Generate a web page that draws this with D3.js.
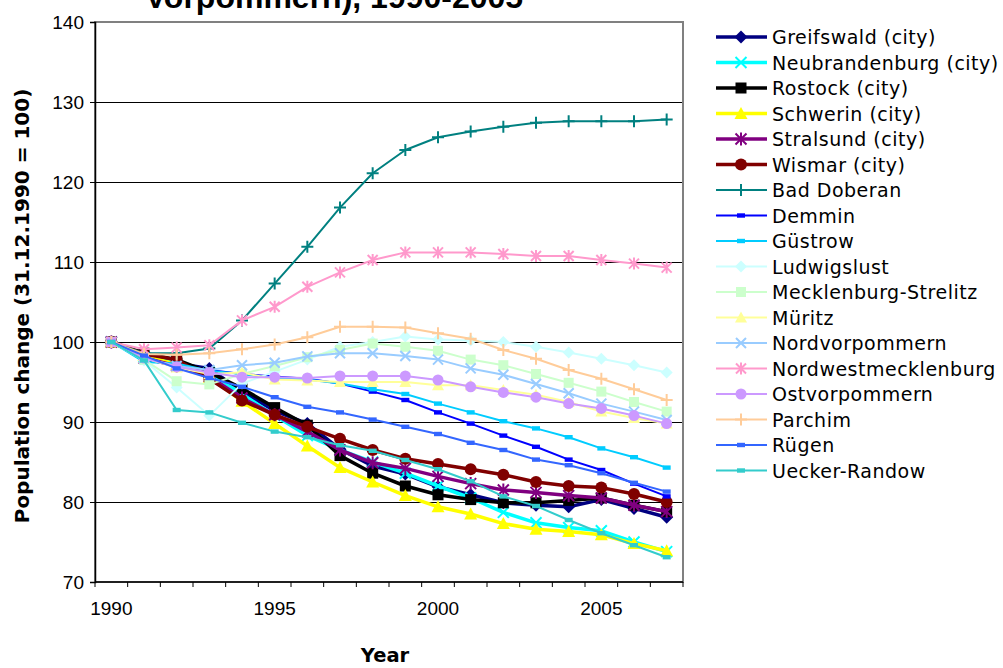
<!DOCTYPE html>
<html><head><meta charset="utf-8">
<script src="https://cdn.jsdelivr.net/npm/d3@7"></script>
<style>
html,body{margin:0;padding:0;background:#fff;}
svg{display:block;}
</style></head>
<body>
<svg id="chart" width="1003" height="668"></svg>
<script>
const years = ["1990","1991","1992","1993","1994","1995","1996","1997","1998","1999","2000","2001","2002","2003","2004","2005","2006","2007"];
const yearLabels = ["1990","1995","2000","2005"];
const yTicks = [70,80,90,100,110,120,130,140];

const seriesNames = ["Greifswald (city)","Neubrandenburg (city)","Rostock (city)","Schwerin (city)","Stralsund (city)","Wismar (city)","Bad Doberan","Demmin","Güstrow","Ludwigslust","Mecklenburg-Strelitz","Müritz","Nordvorpommern","Nordwestmecklenburg","Ostvorpommern","Parchim","Rügen","Uecker-Randow"];

const greifswald = [100,98.3,97.3,96.7,93.8,91.4,89.8,86.6,84.5,83.5,81.9,80.9,79.9,79.6,79.4,80.3,79.2,78.1];
const neubrandenburg = [100,98.2,97.3,96.2,93.5,90.8,88.3,86.5,85.0,83.6,82.0,80.5,78.7,77.4,76.8,76.4,75.0,73.8];
const rostock = [100,98.6,97.8,96.2,94.2,91.8,89.6,85.8,83.6,82.0,80.9,80.3,79.9,79.9,80.2,80.5,79.6,78.8];
const schwerin = [100,98.3,97.2,95.6,92.6,89.8,87.0,84.3,82.5,80.8,79.4,78.5,77.3,76.6,76.3,75.9,74.8,73.9];
const stralsund = [100,98.0,97.0,95.7,93.0,90.9,88.8,86.5,84.9,84.2,83.2,82.3,81.5,81.2,80.8,80.5,79.6,78.8];
const wismar = [100,98.5,97.8,95.4,92.7,90.9,89.4,87.9,86.5,85.4,84.75,84.1,83.4,82.5,82.0,81.8,81.0,80.0];
const badDoberan = [100,98.6,98.6,99.2,102.7,107.3,111.9,116.8,121.1,124.0,125.6,126.3,126.9,127.4,127.6,127.6,127.6,127.8];
const demmin = [100,97.8,97.0,96.5,96.0,95.7,95.4,94.8,93.8,92.75,91.2,89.8,88.3,86.9,85.3,84.0,82.3,80.7];
const guestrow = [100,97.5,97.3,96.4,96.0,95.5,95.3,94.8,94.1,93.5,92.3,91.2,90.1,89.2,88.1,86.7,85.6,84.3];
const ludwigslust = [100,97.7,94.3,90.8,94.8,96.3,97.8,99.4,100.0,100.7,100.3,100.2,100.0,99.4,98.7,97.9,97.1,96.2];
const mecklenburgStrelitz = [100,97.8,95.1,94.7,96.0,97.0,98.1,99.0,99.8,99.4,98.9,97.8,97.1,96.0,94.9,93.8,92.5,91.3];
const mueritz = [100,98.0,96.8,96.0,96.2,95.3,95.2,95.0,95.0,95.0,94.6,94.6,94.0,93.4,92.5,91.3,90.5,89.8];
const nordvorpommern = [100,98.0,97.0,96.5,97.1,97.4,98.2,98.6,98.6,98.25,97.8,96.7,95.9,94.75,93.6,92.3,91.3,90.25];
const nordwestmecklenburg = [100,99.1,99.3,99.6,102.7,104.4,106.9,108.7,110.25,111.2,111.2,111.2,111.0,110.75,110.75,110.25,109.8,109.3];
const ostvorpommern = [100,98.0,96.9,96.2,95.6,95.6,95.5,95.75,95.75,95.75,95.25,94.4,93.7,93.1,92.3,91.7,90.8,89.8];
const parchim = [100,98.5,98.4,98.6,99.1,99.7,100.6,101.9,101.9,101.8,101.1,100.4,99.0,97.9,96.5,95.4,94.1,92.75];
const ruegen = [100,98.3,96.7,95.5,94.4,93.1,91.9,91.2,90.3,89.4,88.5,87.4,86.5,85.3,84.6,83.6,82.4,81.3];
const ueckerRandow = [100,97.7,91.5,91.2,89.9,88.8,88.1,87.1,86.4,85.25,84.1,82.6,80.7,79.5,77.75,76.1,74.6,73.1];

const seriesValues = [greifswald,neubrandenburg,rostock,schwerin,stralsund,wismar,badDoberan,demmin,guestrow,ludwigslust,mecklenburgStrelitz,mueritz,nordvorpommern,nordwestmecklenburg,ostvorpommern,parchim,ruegen,ueckerRandow];

// styles
const colors = ["#000080","#00FFFF","#000000","#FFFF00","#800080","#800000","#008080","#0000FF","#00CCFF","#CCFFFF","#CCFFCC","#FFFF99","#99CCFF","#FF99CC","#CC99FF","#FFCC99","#3366FF","#33CCCC"];
const markers = ["diamond","x","square","triangle","asterisk","circle","plus","dash","dash","diamond","square","triangle","x","asterisk","circle","plus","dash","dash"];
const widths = [3.5,3.5,3.5,3.5,3.5,3.5,2,2,2,2,2,2,2,2,2,2,2,2];

const svg = d3.select("#chart");
const L = 95, R = 683, T = 22, B = 582;

const x = d3.scaleBand().domain(years).range([L, R]).paddingInner(0).paddingOuter(0);
const y = d3.scaleLinear().domain([70,140]).range([B, T]);
const cx = d => x(d) + x.bandwidth()/2;

// gridlines
svg.append("g").selectAll("line").data(yTicks.filter(v => v>70 && v<140)).join("line")
  .attr("x1", L).attr("x2", R).attr("y1", d => y(d)).attr("y2", d => y(d))
  .attr("stroke", "#000").attr("stroke-width", 1).attr("shape-rendering","crispEdges");

// plot border (gray)
svg.append("rect").attr("x", L).attr("y", T).attr("width", R-L).attr("height", B-T)
  .attr("fill","none").attr("stroke","#808080").attr("stroke-width",1.5).attr("shape-rendering","crispEdges");

// y axis
const yAxis = d3.axisLeft(y).tickValues(yTicks).tickSize(5).tickPadding(6).tickFormat(d3.format("d"));
const gy = svg.append("g").attr("transform", `translate(${L},0)`).call(yAxis);
gy.select(".domain").attr("stroke","#000").attr("stroke-width",1.5);
gy.selectAll(".tick line").attr("stroke","#000");
gy.selectAll(".tick text").attr("font-family","'Liberation Sans', Arial, sans-serif").attr("font-size","19px").attr("fill","#000");

// x axis: ticks at category boundaries
const gx = svg.append("g").attr("transform", `translate(0,${B})`);
gx.append("line").attr("x1", L).attr("x2", R).attr("y1",0).attr("y2",0).attr("stroke","#000").attr("stroke-width",1.5);
const boundaries = years.map(d => x(d)).concat([R]);
gx.selectAll("line.tk").data(boundaries).join("line").attr("class","tk")
  .attr("x1", d=>d).attr("x2", d=>d).attr("y1",0).attr("y2",5).attr("stroke","#000");
gx.selectAll("text").data(yearLabels).join("text")
  .attr("x", d => cx(d)).attr("y", 33).attr("text-anchor","middle")
  .attr("font-family","'Liberation Sans', Arial, sans-serif").attr("font-size","19px").attr("fill","#000")
  .text(d => d);

// axis titles
svg.append("text").attr("x", 385).attr("y", 662).attr("text-anchor","middle")
  .attr("font-family","'DejaVu Sans', Verdana, sans-serif").attr("font-weight","bold").attr("font-size","19.5px")
  .text("Year");
svg.append("text").attr("transform","translate(29,306) rotate(-90)").attr("text-anchor","middle")
  .attr("font-family","'DejaVu Sans', Verdana, sans-serif").attr("font-weight","bold").attr("font-size","20px")
  .text("Population change (31.12.1990 = 100)");

// title (partially clipped at top, as in the reference)
svg.append("text").attr("x", 334).attr("y", 8).attr("text-anchor","middle")
  .attr("font-family","'Liberation Sans', Arial, sans-serif").attr("font-weight","bold").attr("font-size","32px")
  .text("Vorpommern), 1990-2005");

function drawMarker(g, type, color, px, py, big) {
  const r = big ? 5.5 : 5;
  if (type === "diamond") {
    g.append("path").attr("d", `M${px},${py-r-1}L${px+r+1},${py}L${px},${py+r+1}L${px-r-1},${py}Z`).attr("fill", color);
  } else if (type === "square") {
    g.append("rect").attr("x", px-r).attr("y", py-r).attr("width", 2*r).attr("height", 2*r).attr("fill", color);
  } else if (type === "triangle") {
    g.append("path").attr("d", `M${px},${py-r-1}L${px+r+1},${py+r}L${px-r-1},${py+r}Z`).attr("fill", color);
  } else if (type === "circle") {
    g.append("circle").attr("cx", px).attr("cy", py).attr("r", r+0.5).attr("fill", color);
  } else if (type === "x") {
    g.append("path").attr("d", `M${px-r},${py-r}L${px+r},${py+r}M${px-r},${py+r}L${px+r},${py-r}`).attr("stroke", color).attr("stroke-width", 2).attr("fill","none");
  } else if (type === "asterisk") {
    g.append("path").attr("d", `M${px-r},${py-r}L${px+r},${py+r}M${px-r},${py+r}L${px+r},${py-r}M${px},${py-r-1}L${px},${py+r+1}`).attr("stroke", color).attr("stroke-width", 2).attr("fill","none");
  } else if (type === "plus") {
    g.append("path").attr("d", `M${px-r-1},${py}L${px+r+1},${py}M${px},${py-r-1}L${px},${py+r+1}`).attr("stroke", color).attr("stroke-width", 2).attr("fill","none");
  } else if (type === "dash") {
    g.append("rect").attr("x", px-4).attr("y", py-2.2).attr("width", 8).attr("height", 4.4).attr("fill", color);
  }
}

const line = d3.line().x((d,i) => cx(years[i])).y(d => y(d));

seriesNames.forEach((name, s) => {
  const g = svg.append("g");
  g.append("path").datum(seriesValues[s]).attr("d", line)
    .attr("fill","none").attr("stroke", colors[s]).attr("stroke-width", widths[s]).attr("stroke-linejoin","round");
  seriesValues[s].forEach((v, i) => drawMarker(g, markers[s], colors[s], cx(years[i]), y(v), widths[s] > 3));
});

// legend
const lg = svg.append("g");
seriesNames.forEach((name, s) => {
  const ly = 37 + s * 25.5;
  const g = lg.append("g");
  g.append("line").attr("x1", 716).attr("x2", 767).attr("y1", ly).attr("y2", ly)
    .attr("stroke", colors[s]).attr("stroke-width", widths[s]);
  drawMarker(g, markers[s], colors[s], 741, ly, widths[s] > 3);
  g.append("text").attr("x", 772).attr("y", ly + 7).attr("font-family","'DejaVu Sans', Verdana, sans-serif")
    .attr("font-size","19px").attr("letter-spacing","0.5px").attr("fill","#000").text(name);
});
</script>
</body></html>
